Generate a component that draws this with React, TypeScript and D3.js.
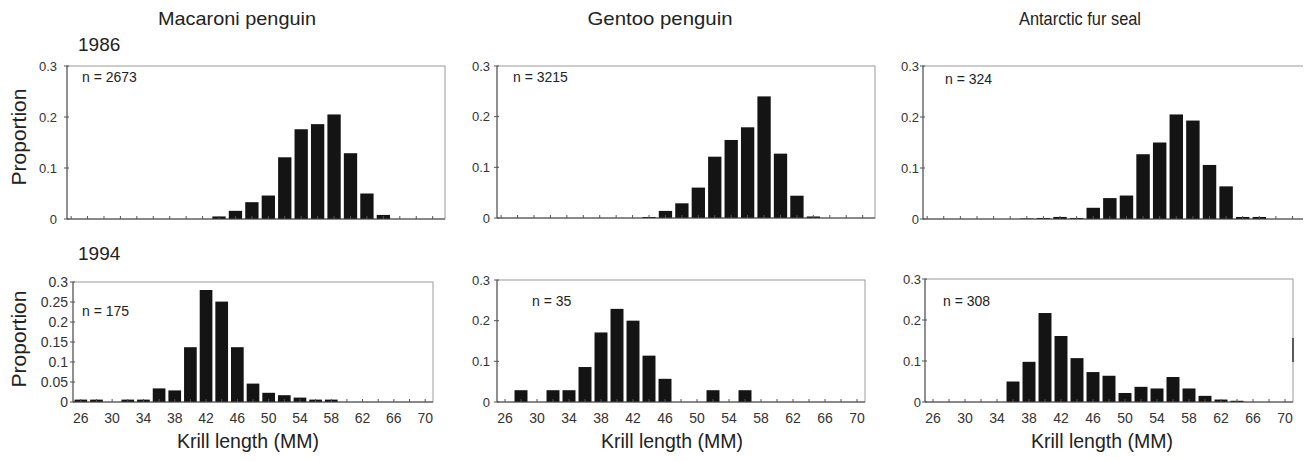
import React from 'react';
import * as d3 from 'd3';

// krill length classes (mm), one bar per class
const lengths = [26, 28, 30, 32, 34, 36, 38, 40, 42, 44, 46, 48, 50, 52, 54, 56, 58, 60, 62, 64, 66, 68, 70];
const xTickLabels = [26, 30, 34, 38, 42, 46, 50, 54, 58, 62, 66, 70];

const species = ['Macaroni penguin', 'Gentoo penguin', 'Antarctic fur seal'];
const years = ['1986', '1994'];
const sampleSizes1986 = [2673, 3215, 324];
const sampleSizes1994 = [175, 35, 308];

const macaroni1986 = [0, 0, 0, 0, 0, 0, 0, 0, 0, 0.005, 0.016, 0.033, 0.046, 0.121, 0.176, 0.186, 0.205, 0.129, 0.05, 0.008, 0, 0, 0];
const gentoo1986 = [0, 0, 0, 0, 0, 0, 0, 0, 0, 0.002, 0.014, 0.029, 0.06, 0.121, 0.154, 0.179, 0.24, 0.127, 0.044, 0.003, 0, 0, 0];
const furSeal1986 = [0, 0, 0, 0, 0, 0, 0.001, 0.002, 0.004, 0.002, 0.022, 0.041, 0.046, 0.127, 0.15, 0.205, 0.193, 0.106, 0.064, 0.004, 0.004, 0, 0];

const macaroni1994 = [0.006, 0.006, 0, 0.006, 0.006, 0.034, 0.029, 0.137, 0.28, 0.251, 0.137, 0.046, 0.023, 0.017, 0.011, 0.006, 0.006, 0, 0, 0, 0, 0, 0];
const gentoo1994 = [0, 0.029, 0, 0.029, 0.029, 0.086, 0.171, 0.229, 0.2, 0.114, 0.057, 0, 0, 0.029, 0, 0.029, 0, 0, 0, 0, 0, 0, 0];
const furSeal1994 = [0, 0, 0, 0, 0, 0.05, 0.098, 0.217, 0.161, 0.107, 0.073, 0.064, 0.022, 0.037, 0.033, 0.061, 0.033, 0.015, 0.006, 0.003, 0, 0, 0];

const yTicksCoarse = [0, 0.1, 0.2, 0.3];
const yTicksFine = [0, 0.05, 0.1, 0.15, 0.2, 0.25, 0.3];

const W = 1311;
const H = 461;
const FONT = '"Liberation Sans", Arial, Helvetica, sans-serif';
const BAR_WIDTH = 1.62; // mm

// panel frames
const panels = [
  { values: macaroni1986, n: sampleSizes1986[0], left: 67, right: 445, top: 66, bottom: 219, domain: [25.5, 71.5], yTicks: yTicksCoarse, gap: 10, nX: 82, nY: 82, labels: false, tickFont: 13 },
  { values: gentoo1986, n: sampleSizes1986[1], left: 497, right: 875, top: 66, bottom: 218, domain: [25.5, 71.5], yTicks: yTicksCoarse, gap: 7, nX: 513, nY: 82, labels: false, tickFont: 13 },
  { values: furSeal1986, n: sampleSizes1986[2], left: 923, right: 1305, top: 66, bottom: 219, domain: [25.5, 71.5], yTicks: yTicksCoarse, gap: 4, nX: 945, nY: 84, labels: false, tickFont: 13 },
  { values: macaroni1994, n: sampleSizes1994[0], left: 73, right: 433, top: 282, bottom: 402, domain: [25, 71], yTicks: yTicksFine, gap: 5, nX: 82, nY: 316, labels: true, tickFont: 14 },
  { values: gentoo1994, n: sampleSizes1994[1], left: 497, right: 865, top: 280, bottom: 402, domain: [25, 71], yTicks: yTicksCoarse, gap: 7, nX: 532, nY: 306, labels: true, tickFont: 13 },
  { values: furSeal1994, n: sampleSizes1994[2], left: 925, right: 1293, top: 279, bottom: 402, domain: [25, 71], yTicks: yTicksCoarse, gap: 4, nX: 943, nY: 306, labels: true, tickFont: 13 },
];

const titleX = [237, 660, 1080];
const titleLength = [158, 145, 122];
const xLabelX = [248, 672, 1102];

const Panel = ({ p }) => {
  const x = d3.scaleLinear().domain(p.domain).range([p.left, p.right]);
  const y = d3.scaleLinear().domain([0, 0.3]).range([p.bottom, p.top]);
  const bw = x(BAR_WIDTH) - x(0);

  return (
    <g>
      <rect
        x={p.left}
        y={p.top}
        width={p.right - p.left}
        height={p.bottom - p.top}
        fill="none"
        stroke="#9a9a9a"
        strokeWidth={1}
      />
      <line x1={p.left} x2={p.left} y1={p.top} y2={p.bottom} stroke="#555" strokeWidth={1} />

      {lengths.map((l, i) =>
        p.values[i] > 0 ? (
          <rect
            key={l}
            x={x(l) - bw / 2}
            y={y(p.values[i])}
            width={bw}
            height={p.bottom - y(p.values[i])}
            fill="#141414"
          />
        ) : null
      )}

      <line x1={p.left} x2={p.right} y1={p.bottom} y2={p.bottom} stroke="#444" strokeWidth={1} />
      {lengths.map(l => (
        <line key={'t' + l} x1={x(l)} x2={x(l)} y1={p.bottom} y2={p.bottom - 3} stroke="#555" strokeWidth={1} />
      ))}

      {p.yTicks.map(t => (
        <g key={'y' + t}>
          <line x1={p.left - 3} x2={p.left + 2} y1={y(t)} y2={y(t)} stroke="#555" strokeWidth={1} />
          <text
            x={p.left - p.gap}
            y={y(t)}
            dy="0.35em"
            textAnchor="end"
            fontSize={p.tickFont}
            fill="#333"
          >
            {t === 0 ? '0' : String(t)}
          </text>
        </g>
      ))}

      {p.labels &&
        xTickLabels.map(l => (
          <text key={'x' + l} x={x(l)} y={423} textAnchor="middle" fontSize={14} fill="#333">
            {l}
          </text>
        ))}

      <text x={p.nX} y={p.nY} fontSize={14} fill="#222">
        {'n = ' + p.n}
      </text>
    </g>
  );
};

export default function App() {
  return (
    <svg width={W} height={H} style={{ display: 'block', margin: '-8px', fontFamily: FONT, background: '#fff' }}>
      <rect width={W} height={H} fill="#fff" />
      {species.map((s, i) => (
        <text
          key={s}
          x={titleX[i]}
          y={25}
          textAnchor="middle"
          fontSize={19}
          fill="#222"
          textLength={titleLength[i]}
          lengthAdjust="spacingAndGlyphs"
        >
          {s}
        </text>
      ))}
      <text x={78} y={51} fontSize={19} fill="#222">{years[0]}</text>
      <text x={78} y={260} fontSize={19} fill="#222">{years[1]}</text>

      {[137, 339].map(cy => (
        <text
          key={cy}
          transform={`translate(26, ${cy}) rotate(-90)`}
          textAnchor="middle"
          fontSize={21}
          fill="#222"
        >
          Proportion
        </text>
      ))}

      {panels.map((p, i) => (
        <Panel key={i} p={p} />
      ))}

      {/* darker stretch of the scanned right border, bottom-right panel */}
      <line x1={1293} x2={1293} y1={338} y2={362} stroke="#333" strokeWidth={1.5} />

      {xLabelX.map((cx, i) => (
        <text key={'k' + i} x={cx} y={448} textAnchor="middle" fontSize={19.5} fill="#222">
          Krill length (MM)
        </text>
      ))}
    </svg>
  );
}
